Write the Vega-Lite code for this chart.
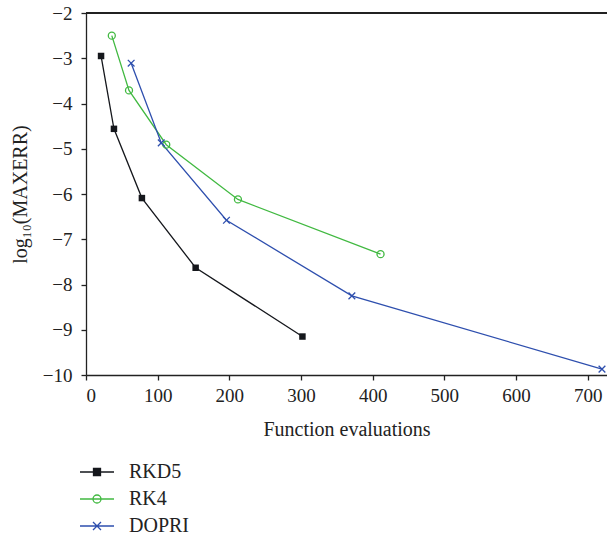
{
  "$schema": "https://vega.github.io/schema/vega-lite/v6.json",
  "autosize": "none",
  "width": 521,
  "height": 362,
  "padding": {"left": 86, "top": 13, "right": 0, "bottom": 163},
  "background": "white",
  "config": {
    "font": "Liberation Serif",
    "view": {"stroke": null},
    "legend": {"labelFont": "Liberation Serif", "labelFontSize": 20, "labelColor": "#222"},
    "axis": {
      "grid": false,
      "domainColor": "#222",
      "tickColor": "#222",
      "domainWidth": 1.3,
      "tickWidth": 1.3,
      "tickSize": 5,
      "labelColor": "#222",
      "titleColor": "#222",
      "labelFont": "Liberation Serif",
      "titleFont": "Liberation Serif",
      "labelFontSize": 19,
      "titleFontSize": 20,
      "titleFontWeight": "normal"
    }
  },
  "data": {
    "values": [
      {"series": "RKD5", "evals": 21, "err": -2.95},
      {"series": "RKD5", "evals": 39, "err": -4.56},
      {"series": "RKD5", "evals": 78, "err": -6.09},
      {"series": "RKD5", "evals": 153, "err": -7.63},
      {"series": "RKD5", "evals": 302, "err": -9.15},
      {"series": "RK4", "evals": 36, "err": -2.5},
      {"series": "RK4", "evals": 60, "err": -3.71},
      {"series": "RK4", "evals": 112, "err": -4.91},
      {"series": "RK4", "evals": 212, "err": -6.12},
      {"series": "RK4", "evals": 411, "err": -7.33},
      {"series": "DOPRI", "evals": 63, "err": -3.11},
      {"series": "DOPRI", "evals": 105, "err": -4.87},
      {"series": "DOPRI", "evals": 196, "err": -6.58},
      {"series": "DOPRI", "evals": 371, "err": -8.25},
      {"series": "DOPRI", "evals": 720, "err": -9.87}
    ]
  },
  "encoding": {
    "x": {
      "field": "evals",
      "type": "quantitative",
      "scale": {"domain": [0, 727], "nice": false, "zero": false},
      "axis": {
        "title": "Function evaluations",
        "values": [0, 100, 200, 300, 400, 500, 600, 700],
        "labelPadding": 6,
        "titleY": 60,
        "titleBaseline": "alphabetic"
      }
    },
    "y": {
      "field": "err",
      "type": "quantitative",
      "scale": {"domain": [-10, -2], "nice": false, "zero": false},
      "axis": {
        "title": "log₁₀(MAXERR)",
        "values": [-10, -9, -8, -7, -6, -5, -4, -3, -2],
        "labelPadding": 9,
        "titleX": -66,
        "titleY": 181,
        "titleAngle": -90,
        "titleAlign": "center",
        "titleBaseline": "middle"
      }
    }
  },
  "layer": [
    {
      "mark": {"type": "rule", "color": "#222", "strokeWidth": 1.3},
      "encoding": {"x": null, "y": {"datum": -2}}
    },
    {
      "mark": {"type": "line", "strokeWidth": 1.3},
      "encoding": {
        "color": {
          "field": "series",
          "type": "nominal",
          "scale": {"domain": ["RKD5", "RK4", "DOPRI"], "range": ["#15171c", "#41b941", "#2e4fae"]},
          "legend": {
            "title": null,
            "orient": "none",
            "legendX": 1,
            "legendY": 449,
            "padding": 0,
            "labelFont": "Liberation Serif",
            "labelFontSize": 20,
            "labelColor": "#222",
            "labelOffset": 22,
            "symbolSize": 100,
            "rowPadding": 7,
            "symbolStrokeWidth": 1.3,
            "encode": {
              "labels": {
                "update": {
                  "font": {"value": "Liberation Serif"},
                  "fontSize": {"value": 20}
                }
              },
              "symbols": {
                "update": {
                  "shape": {"signal": "datum.value === 'RKD5' ? 'M-3.4,0H3.4M-0.7,-0.7H0.7V0.7H-0.7Z' : datum.value === 'RK4' ? 'M-3.4,0H3.4M0.8,0A0.8,0.8,0,1,1,-0.8,0A0.8,0.8,0,1,1,0.8,0' : 'M-3.4,0H3.4M-0.8,-0.8L0.8,0.8M-0.8,0.8L0.8,-0.8'"},
                  "fill": {"signal": "datum.value === 'RKD5' ? '#15171c' : 'transparent'"},
                  "strokeWidth": {"value": 1.3},
                  "opacity": {"value": 1}
                }
              }
            }
          }
        }
      }
    },
    {
      "transform": [{"filter": "datum.series === 'RKD5'"}],
      "mark": {"type": "point", "shape": "square", "size": 42, "filled": true, "color": "#15171c", "opacity": 1}
    },
    {
      "transform": [{"filter": "datum.series === 'RK4'"}],
      "mark": {"type": "point", "shape": "circle", "size": 49, "filled": false, "color": "#41b941", "strokeWidth": 1.3, "opacity": 1}
    },
    {
      "transform": [{"filter": "datum.series === 'DOPRI'"}],
      "mark": {"type": "point", "shape": "M-1,-1L1,1M-1,1L1,-1", "size": 45, "filled": false, "color": "#2e4fae", "strokeWidth": 1.3, "opacity": 1}
    }
  ]
}
